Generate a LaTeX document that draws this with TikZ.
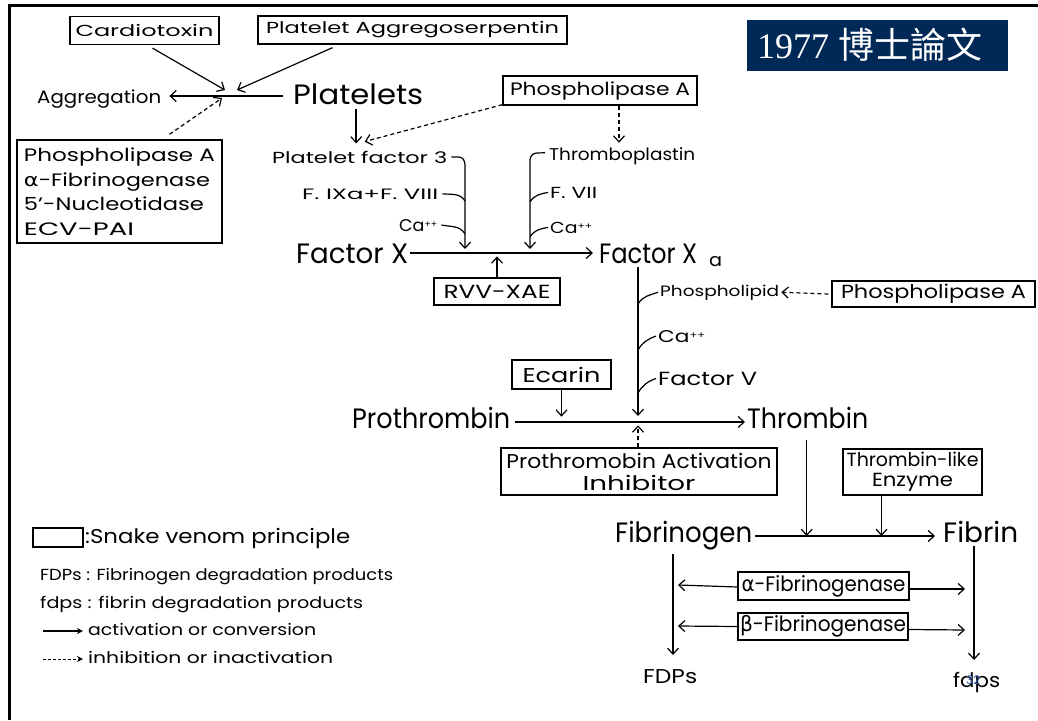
\documentclass[tikz,border=0pt]{standalone}
\usepackage{fontspec}
\usepackage{graphicx}
\setmainfont{Poppins}
\newfontfamily\greekfont{DejaVu Sans}
\newfontfamily\titleserif{Liberation Serif}
\newfontfamily\cjk{Noto Sans CJK TC}
\usetikzlibrary{arrows.meta}
\definecolor{titlenavy}{RGB}{0,41,87}
\definecolor{pageblue}{RGB}{40,95,175}
% set #3 at size #1 and squeeze/stretch it to width #2 (in pt)
\newcommand\fitt[3]{{\fontsize{#1}{#1}\selectfont\resizebox{#2pt}{\height}{#3}}}
\newcommand\capp{\raisebox{4pt}{\fontsize{9}{9}\selectfont ++}}
\begin{document}
\begin{tikzpicture}[x=1pt,y=-1pt,
  barb/.style={-{Straight Barb[length=6pt,width=11pt,line width=1.2pt]}},
  conv/.style={barb, line width=1.2pt},
  inhib/.style={barb, line width=1.2pt, dash pattern=on 4pt off 3pt},
  hook/.style={line width=1.2pt},
  venom/.style={draw, line width=1.3pt, inner sep=0pt, align=center},
  lbl/.style={inner sep=0pt, anchor=base west},
]
\useasboundingbox (0,0) rectangle (1038,720);
\fill[white] (0,0) rectangle (1038,720);
% slide frame
\draw[line width=3pt] (9,720) -- (9,5) -- (1038,5);

% title
\node[fill=titlenavy, minimum width=261pt, minimum height=51pt, inner sep=0pt] (title) at (877.5,45.5) {};
\node[lbl, text=white] (titletext) at (757,58) {\fontsize{36}{36}\selectfont\titleserif 1977 \cjk 博士論文};

% ---- platelet section ----
\node[venom, minimum width=149pt, minimum height=28pt] (ct) at (144.5,30.5) {\fitt{16}{138}{Cardiotoxin}};
\node[venom, minimum width=309pt, minimum height=28pt] (pas) at (412.5,30) {\fitt{16}{293}{Platelet Aggregoserpentin}};
\node[venom, minimum width=194pt, minimum height=29pt] (pla1) at (600,90.5) {\fitt{18}{180}{Phospholipase A}};
\node[venom, minimum width=205pt, minimum height=103pt, align=left, font=\fontsize{18}{24.5}\selectfont] (lbox) at (119.5,191.5)
  {\fitt{18}{191}{Phospholipase A}\\\fitt{18}{186}{{\greekfont α}-Fibrinogenase}\\\fitt{18}{180}{5'-Nucleotidase}\\\fitt{18}{110}{ECV-PAI}};

\node[lbl] (agg) at (37,103) {\fitt{18}{124}{Aggregation}};
\node[lbl] (plt) at (293,104) {\fitt{28}{130}{Platelets}};
\coordinate (aggj) at (230,96);

\draw[conv] ([shift={(-10pt,8pt)}]plt.base west) -- ([shift={(8pt,7pt)}]agg.base east);
\draw[conv] ([shift={(8pt,-3pt)}]ct.south) -- ([shift={(-5pt,6pt)}]aggj);
\draw[conv] ([shift={(-80pt,-3pt)}]pas.south) -- ([shift={(7pt,6pt)}]aggj);
\draw[inhib] ([shift={(50pt,5pt)}]lbox.north) -- ([shift={(-8pt,-2pt)}]aggj);

% ---- intrinsic / extrinsic ----
\node[lbl] (pf3) at (272,163) {\fitt{16}{175}{Platelet factor 3}};
\node[lbl] (fix) at (302,199) {\fitt{15}{136}{F. IXa+F. VIII}};
\node[lbl] (ca1) at (399,231) {\fitt{17}{38}{Ca\capp}};
\node[lbl] (tpl) at (549,160) {\fitt{17}{146}{Thromboplastin}};
\node[lbl] (f7) at (550,198) {\fitt{16}{47}{F. VII}};
\node[lbl] (ca2) at (550,233) {\fitt{16}{42}{Ca\capp}};

\draw[conv, line width=1.6pt] ([shift={(-2pt,-5pt)}]plt.south) -- ++(0,34);
\draw[inhib] ([yshift=1pt]pla1.south west) -- ([shift={(5pt,9pt)}]pf3.north);
\draw[inhib] ([xshift=19pt]pla1.south) -- ++(0,37);

% Factor X -> Factor Xa
\node[lbl] (fx) at (296,263) {\fitt{28}{112}{Factor X}};
\node[lbl] (fxa) at (599,263) {\fitt{28}{98}{Factor X}};
\node[lbl] (fxasub) at (709,266) {\fitt{18}{13}{a}};
\coordinate (xline) at (0,253);
\coordinate (jl) at (465,249);
\coordinate (jr) at (530,249);
\draw[conv] ([xshift=2pt]fx.east |- xline) -- ([xshift=-6pt]fxa.west |- xline);

% left bracket
\draw[conv] ([xshift=4pt]pf3.east) -- (459,157) to[out=0,in=90] (465,165) -- (jl);
\draw[hook] ([xshift=4pt]fix.east) to[out=-5,in=120] (465,201);
\draw[hook] ([xshift=4pt]ca1.east) to[out=-10,in=120] (465,234);
% right bracket
\draw[conv] ([xshift=-4pt,yshift=3pt]tpl.west) -- (537,153) to[out=180,in=90] (530,160) -- (jr);
\draw[hook] ([xshift=-2pt]f7.west) to[out=190,in=60] (530,202);
\draw[hook] ([xshift=-2pt]ca2.west) to[out=190,in=60] (530,237);

\node[venom, minimum width=126pt, minimum height=27pt] (rvv) at (497,291.5) {\fitt{19}{107}{RVV-XAE}};
\draw[conv] (rvv.north) -- ++(0,-21);

% ---- prothrombin activation ----
\node[lbl] (phl) at (660,296) {\fitt{15}{119}{Phospholipid}};
\node[lbl] (ca3) at (658,342) {\fitt{17}{47}{Ca\capp}};
\node[lbl] (f5) at (658,385) {\fitt{19}{99}{Factor V}};
\node[venom, minimum width=203pt, minimum height=26pt] (pla2) at (933.5,294) {\fitt{19}{185}{Phospholipase A}};
\draw[inhib] ([xshift=-3pt]pla2.west) -- ([xshift=2pt]phl.east);

\node[lbl] (pro) at (352,428) {\fitt{28}{158}{Prothrombin}};
\node[lbl] (thr) at (747,428) {\fitt{28}{121}{Thrombin}};
\coordinate (pline) at (0,422);
\coordinate (jp) at (638,416);
\draw[conv] ([xshift=5pt]pro.east |- pline) -- ([xshift=-2pt]thr.west |- pline);

\draw[conv] (fxa.south -| jp) ++(0,4) -- (jp);
\draw[hook] ([xshift=-2pt]phl.west) to[out=200,in=60] (638,304);
\draw[hook] ([xshift=-2pt]ca3.west) to[out=200,in=60] (638,350);
\draw[hook] ([xshift=-2pt]f5.west) to[out=200,in=60] (638,393);

\node[venom, minimum width=99pt, minimum height=29pt] (eca) at (561.5,374.5) {\fitt{20}{78}{Ecarin}};
\draw[conv] (eca.south) -- ++(0,27);

\node[venom, minimum width=276pt, minimum height=47pt, font=\fontsize{20}{22}\selectfont] (pai) at (639,471.5)
  {\fitt{20}{265}{Prothromobin Activation}\\\fitt{20}{113}{Inhibitor}};
\draw[inhib] (pai.north -| jp) -- ++(0,-22);

% ---- fibrinogen ----
\node[lbl] (fbg) at (615,542) {\fitt{28}{137}{Fibrinogen}};
\node[lbl] (fbn) at (943,542) {\fitt{28}{75}{Fibrin}};
\coordinate (fline) at (0,536);
\draw[conv] ([xshift=3pt]fbg.east |- fline) -- ([xshift=-8pt]fbn.west |- fline);

\node[venom, minimum width=139pt, minimum height=46pt, font=\fontsize{19}{20}\selectfont] (tle) at (912.5,472)
  {\fitt{19}{132}{Thrombin-like}\\\fitt{19}{81}{Enzyme}};
\draw[conv] ([xshift=-1pt,yshift=-12pt]thr.south) -- ([xshift=-1pt]thr.south |- fline);
\draw[conv] ([xshift=-31pt]tle.south) -- ([xshift=-31pt]tle.south |- fline);

\node[lbl] (fdp) at (643,683) {\fitt{20}{54}{FDPs}};
\node[lbl] (fdps) at (953,687) {\fitt{20}{47}{fdps}};
\coordinate (fdpv) at (673,0);
\coordinate (fdpsv) at (974,0);
\draw[conv] (fdpv |- fbg.south) ++(0,4) -- (fdpv |- 655,655);
\draw[conv] (fdpsv |- fbn.south) ++(0,4) -- (fdpsv |- 660,660);

\node[venom, minimum width=171pt, minimum height=28pt] (afg) at (823.5,586) {\fitt{21}{164}{{\greekfont α}-Fibrinogenase}};
\node[venom, minimum width=170pt, minimum height=27pt] (bfg) at (823,626.5) {\fitt{21}{166}{{\greekfont β}-Fibrinogenase}};
\draw[conv] ([yshift=-1pt]afg.west) -- ([xshift=5pt]fdpv |- 0,585);
\draw[conv] ([yshift=-3pt]afg.east) -- ([xshift=-9pt]fdpsv |- 0,589);
\draw[conv] (bfg.west) -- ([xshift=5pt]fdpv |- 0,626);
\draw[conv] ([yshift=-3pt]bfg.east) -- ([xshift=-9pt]fdpsv |- 0,630);

\node[lbl, text=pageblue] (pageno) at (966,684) {\fontsize{12}{12}\selectfont 32};

% ---- legend ----
\node[draw, line width=1.3pt, minimum width=50pt, minimum height=19pt, inner sep=0pt] (lgbox) at (58,537.5) {};
\node[lbl] (lgvenom) at (85,543) {\fitt{20}{265}{:Snake venom principle}};
\node[lbl] (lgfdp) at (40,580) {\fitt{16}{353}{FDPs : Fibrinogen degradation products}};
\node[lbl] (lgfdps) at (40,608) {\fitt{16}{323}{fdps : fibrin degradation products}};
\node[lbl] (lgact) at (88,635) {\fitt{16}{228}{activation or conversion}};
\node[lbl] (lginh) at (88,663) {\fitt{16}{245}{inhibition or inactivation}};
\draw[line width=1.2pt, -{Stealth[length=6pt,width=6pt]}] ([shift={(-45pt,4pt)}]lgact.base west) -- ([shift={(-5pt,4pt)}]lgact.base west);
\draw[line width=1pt, dash pattern=on 3pt off 2pt, -{Stealth[length=6pt,width=6pt,open]}] ([shift={(-45pt,4pt)}]lginh.base west) -- ([shift={(-5pt,4pt)}]lginh.base west);
\end{tikzpicture}
\end{document}
